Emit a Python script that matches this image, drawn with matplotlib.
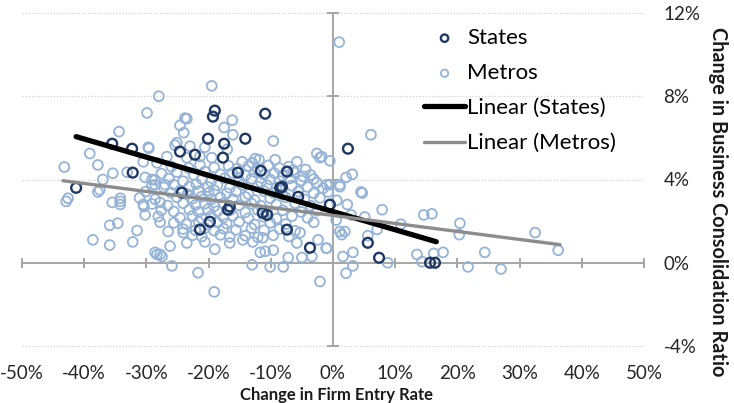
import numpy as np
import matplotlib
matplotlib.use("Agg")
import matplotlib.pyplot as plt

plt.rcParams["font.family"] = ["Lato", "DejaVu Sans"]

# values in percent
states = [
    (-41.3, 3.60), (-35.5, 5.72), (-32.3, 5.48), (-32.2, 4.33), (-24.6, 5.34),
    (-22.2, 5.19), (-20.1, 5.96), (-19.3, 7.02), (-19.0, 7.31), (-17.5, 5.72),
    (-17.7, 5.05), (-14.1, 5.96), (-10.9, 7.16), (-11.6, 4.42), (-7.4, 4.38),
    (-8.5, 3.60), (-5.6, 3.17), (2.4, 5.48), (-24.3, 3.37), (-21.4, 1.59),
    (-19.8, 1.97), (-16.9, 2.55), (-11.3, 2.40), (-7.4, 1.59), (-3.7, 0.72),
    (-0.5, 2.79), (5.6, 0.96), (7.4, 0.24), (15.6, 0.00), (16.4, 0.00),
    (-15.3, 4.33), (-8.2, 3.65), (-10.6, 2.30), (-16.6, 2.70),
]

metros_outer = [
    (1.0, 10.6), (-19.5, 8.5), (-28.0, 8.0), (-29.9, 7.2), (-23.8, 6.95),
    (-24.6, 6.6), (-16.2, 6.85), (-17.5, 6.5), (-24.0, 6.25), (-16.1, 6.15),
    (-34.4, 6.3), (-9.6, 5.85), (-29.6, 5.5), (-39.1, 5.25), (-37.8, 4.7),
    (-43.2, 4.6), (6.1, 6.15), (-2.6, 5.25), (-2.1, 5.05), (-0.5, 4.9),
    (-25.4, 5.65), (-23.0, 5.6), (-21.4, 5.1), (-17.0, 5.45), (-12.5, 5.0),
    (-11.9, 4.95), (-9.3, 4.95), (-5.8, 4.85), (-30.5, 4.85), (-26.7, 5.1),
    (-28.3, 4.8), (-23.5, 6.92), (-20.6, 5.55), (-13.0, 4.8), (-19.5, 5.05),
    (-14.6, 4.85), (-23.5, 5.05), (-6.4, 4.45), (-4.8, 4.15), (-2.6, 3.85),
    (-1.0, 3.75), (1.1, 3.75), (2.1, 4.1), (3.1, 4.25), (4.5, 3.4),
    (-1.8, 5.1), (-25.1, 5.77),
    (-0.5, 3.75), (1.1, 3.65), (-0.8, 3.4), (0.6, 3.0), (2.3, 2.8),
    (7.9, 2.55), (5.1, 2.2), (2.9, 2.3), (0.5, 2.05), (10.9, 1.85),
    (14.6, 2.3), (15.9, 2.35), (20.4, 1.9), (20.3, 1.35), (32.5, 1.45),
    (36.2, 0.6), (7.1, 1.6), (5.6, 1.3), (1.1, 1.5), (1.9, 1.5),
    (1.4, 1.35), (-1.1, 0.7), (3.2, 0.5), (1.6, 0.3), (3.2, -0.15),
    (2.1, -0.5), (8.8, 0.0), (13.5, 0.4), (14.3, 0.05), (16.2, 0.45),
    (17.7, 0.5), (24.4, 0.5), (21.7, -0.2), (27.0, -0.3), (-2.1, -0.9),
    (4.7, 3.35),
    (-42.9, 2.95), (-37.8, 3.4), (-35.5, 2.9), (-34.2, 2.95), (-34.2, 2.8),
    (-35.9, 1.8), (-34.6, 1.9), (-38.6, 1.1), (-35.9, 0.85), (-32.2, 1.0),
    (-31.5, 1.55), (-30.2, 2.3), (-30.5, 2.8), (-28.3, 0.4), (-27.5, 0.3),
    (-25.9, -0.15), (-26.2, 0.8), (-27.8, 1.95), (-26.5, 1.5), (-24.1, 1.45),
    (-21.7, -0.48), (-19.1, -1.4), (-13.0, -0.1), (-10.1, -0.2), (-8.0, -0.2),
    (-11.7, 0.5), (-10.9, 0.55), (-9.6, 0.6), (-7.2, 0.25), (-5.0, 0.25),
    (-3.4, 0.3), (-2.4, 1.1), (-1.0, 0.7), (-23.5, 0.95), (-20.6, 1.0),
    (-19.0, 0.65), (-16.6, 0.95), (-14.5, 1.1), (-12.9, 1.0), (-5.8, 0.95),
    (-5.3, 1.45), (-11.3, 1.2),
    (-35.4, 4.3), (-37.0, 4.0), (-33.1, 4.35), (-29.7, 5.55), (-30.2, 4.1),
    (-29.1, 4.0), (-28.6, 3.75), (-27.0, 3.75), (-37.5, 3.5), (-42.6, 3.1),
    (-34.2, 3.1), (-30.4, 2.7), (-27.8, 2.9), (-28.6, 0.5), (-27.8, 0.4),
]

metros_core = [
    (-26.0, 4.62), (-23.2, 4.55), (-21.4, 4.70), (-19.1, 4.58), (-16.8, 4.66), (-15.4, 4.52),
    (-13.6, 4.64), (-12.1, 4.50), (-10.4, 4.68), (-8.6, 4.55), (-7.1, 4.62), (-4.4, 4.48),
    (-27.6, 4.28), (-25.1, 4.35), (-22.4, 4.22), (-20.6, 4.38), (-18.1, 4.25), (-16.2, 4.32),
    (-14.1, 4.20), (-12.6, 4.36), (-11.1, 4.24), (-9.4, 4.30), (-8.1, 4.18), (-6.2, 4.34),
    (-3.6, 4.22), (-28.6, 3.98), (-26.4, 4.05), (-24.1, 3.92), (-21.1, 4.02), (-19.6, 3.90),
    (-17.4, 4.06), (-15.1, 3.95), (-13.1, 4.04), (-11.6, 3.88), (-10.1, 4.00), (-8.6, 3.92),
    (-6.9, 4.05), (-5.1, 3.95), (-3.1, 4.02), (-29.1, 3.70), (-27.2, 3.62), (-25.6, 3.75),
    (-23.1, 3.66), (-22.0, 3.78), (-20.1, 3.64), (-18.6, 3.72), (-16.6, 3.60), (-14.6, 3.74),
    (-12.1, 3.66), (-10.6, 3.72), (-9.1, 3.60), (-6.6, 3.70), (-4.1, 3.64), (-1.6, 3.58),
    (-30.1, 3.42), (-26.1, 3.38), (-24.6, 3.46), (-23.4, 3.30), (-21.6, 3.44), (-20.0, 3.36),
    (-19.1, 3.48), (-17.1, 3.34), (-15.6, 3.42), (-13.6, 3.30), (-11.1, 3.44), (-9.6, 3.36),
    (-8.1, 3.28), (-5.6, 3.42), (-3.1, 3.34), (-31.1, 3.12), (-28.6, 3.05), (-25.1, 3.15),
    (-22.6, 3.08), (-21.1, 3.18), (-19.6, 3.04), (-18.1, 3.14), (-16.1, 3.06), (-14.1, 3.16),
    (-12.6, 3.02), (-10.1, 3.10), (-7.6, 3.14), (-4.6, 3.05), (-2.1, 3.12), (-29.1, 2.82),
    (-26.6, 2.75), (-24.1, 2.86), (-22.1, 2.78), (-20.6, 2.84), (-19.1, 2.72), (-17.6, 2.86),
    (-15.1, 2.76), (-13.1, 2.84), (-11.6, 2.74), (-9.1, 2.80), (-6.1, 2.86), (-3.6, 2.74),
    (-27.6, 2.52), (-25.6, 2.46), (-23.1, 2.55), (-21.6, 2.44), (-20.1, 2.56), (-18.6, 2.48),
    (-16.6, 2.52), (-14.1, 2.42), (-12.1, 2.54), (-10.6, 2.46), (-8.1, 2.52), (-5.1, 2.44),
    (-2.6, 2.50), (-28.1, 2.22), (-24.6, 2.16), (-22.6, 2.25), (-21.1, 2.12), (-19.6, 2.24),
    (-17.6, 2.18), (-16.1, 2.26), (-13.6, 2.14), (-11.1, 2.20), (-9.1, 2.12), (-6.6, 2.24),
    (-4.1, 2.16), (-25.6, 1.92), (-23.6, 1.86), (-21.6, 1.96), (-20.1, 1.84), (-18.6, 1.94),
    (-17.1, 1.88), (-15.1, 1.96), (-12.6, 1.84), (-10.1, 1.92), (-7.6, 1.86), (-3.1, 1.94),
    (-24.1, 1.62), (-22.1, 1.56), (-20.6, 1.66), (-19.1, 1.54), (-17.6, 1.64), (-15.6, 1.58),
    (-13.1, 1.66), (-11.1, 1.56), (-8.6, 1.62), (-6.1, 1.54), (-22.6, 1.32), (-21.1, 1.26),
    (-18.1, 1.34), (-16.6, 1.24), (-14.1, 1.30), (-12.1, 1.22), (-9.6, 1.32), (-7.1, 1.26),
]

# trendline ends as drawn in the chart
states_fit_x = [-41.3, 16.6]
states_fit_y = [6.06, 1.01]
metros_fit_x = [-43.4, 36.5]
metros_fit_y = [3.94, 0.87]

x_ticks = [-50, -40, -30, -20, -10, 0, 10, 20, 30, 40, 50]
y_ticks = [-4, 0, 4, 8, 12]

metro_col = "#95b3d7"
state_col = "#1f3864"
axis_col = "#a6a6a6"

fig = plt.figure(figsize=(7.34, 4.03), dpi=100)
ax = fig.add_axes([22 / 734, 1 - 346 / 403, (644 - 22) / 734, (346 - 13) / 403])
ax.set_xlim(-50, 50)
ax.set_ylim(-4, 12)
for s in ax.spines.values():
    s.set_visible(False)

# dotted gridlines
for yv in y_ticks:
    if yv != 0:
        ax.axhline(yv, color="#d0d0d0", lw=0.9, ls=(0, (1, 1.5)), zorder=0, clip_on=False)

# cross axes at zero with tick marks
ax.axhline(0, color=axis_col, lw=1.4, zorder=1)
ax.axvline(0, color=axis_col, lw=1.4, zorder=1)
ax.plot(x_ticks, [0] * len(x_ticks), ls="none", marker="|", ms=7, mew=1.4,
        color=axis_col, zorder=1, clip_on=False)
ax.plot([0] * len(y_ticks), y_ticks, ls="none", marker="_", ms=8, mew=1.4,
        color=axis_col, zorder=1, clip_on=False)

mx, my = zip(*(metros_outer + metros_core))
sx, sy = zip(*states)
ax.scatter(mx, my, s=50, facecolors="none", edgecolors=metro_col, linewidths=1.3,
           zorder=2, label="Metros")
ax.scatter(sx, sy, s=50, facecolors="none", edgecolors=state_col, linewidths=1.7,
           zorder=3, label="States")
ax.plot(states_fit_x, states_fit_y, color="black", lw=3.8, solid_capstyle="round",
        zorder=4, label="Linear (States)")
ax.plot(metros_fit_x, metros_fit_y, color="#8c8c8c", lw=2.4, solid_capstyle="round",
        zorder=4, label="Linear (Metros)")

ax.set_xticks(x_ticks)
ax.set_xticklabels([f"{v}%" for v in x_ticks])
ax.set_yticks(y_ticks)
ax.set_yticklabels([f"{v}%" for v in y_ticks])
ax.yaxis.tick_right()
ax.tick_params(axis="both", length=0, labelsize=13.5, colors="#262626")
ax.tick_params(axis="x", pad=14)
ax.tick_params(axis="y", pad=14)

h, l = ax.get_legend_handles_labels()
order = [1, 0, 2, 3]
ax.legend([h[i] for i in order], [l[i] for i in order], loc="upper left",
          bbox_to_anchor=(424 / 734, 1 - 28 / 403), bbox_transform=fig.transFigure,
          frameon=False, fontsize=16, handlelength=1.85, handletextpad=0.08,
          labelspacing=0.68, borderpad=0, borderaxespad=0, markerscale=0.75)

fig.text(718 / 734, 0.50, "Change in Business Consolidation Ratio", rotation=-90,
         ha="center", va="center", fontsize=14.3, fontweight="bold", color="#1a1a1a")
fig.text(337 / 734, 1 - 387 / 403, "Change in Firm Entry Rate", ha="center",
         va="top", fontsize=12, fontweight="bold", color="#1a1a1a")

fig.savefig("out.png", dpi=100)
